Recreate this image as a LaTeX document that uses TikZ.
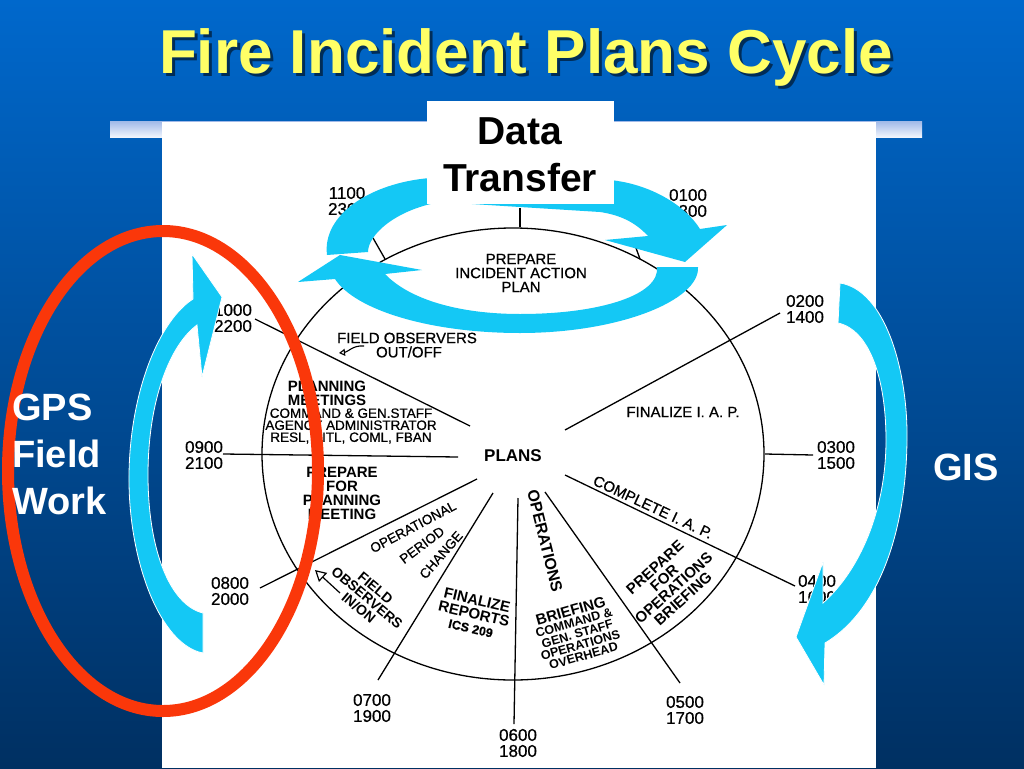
\documentclass[tikz,border=0pt]{standalone}
\usepackage{fontspec}
\setmainfont{Liberation Sans}
\newfontfamily\medfont[FakeBold=0.7]{Liberation Sans}
\usetikzlibrary{arrows.meta}
\definecolor{bgtop}{RGB}{0,104,204}
\definecolor{bgbot}{RGB}{0,48,98}
\definecolor{barA}{RGB}{160,185,232}
\definecolor{barB}{RGB}{240,244,252}
\definecolor{cy}{RGB}{20,200,245}
\definecolor{rd}{RGB}{250,55,10}
\definecolor{ttl}{RGB}{255,255,102}
\begin{document}
\begin{tikzpicture}[x=1pt,y=-1pt,
  tm/.style={font=\medfont\fontsize{17}{16}\selectfont, align=center, inner sep=0pt},
  tx/.style={font=\medfont\fontsize{15}{14}\selectfont, align=center, inner sep=0pt},
  bx/.style={font=\fontsize{15}{14}\selectfont\bfseries, align=center, inner sep=0pt},
  sm/.style={font=\medfont\fontsize{13.5}{12}\selectfont, align=center, inner sep=0pt},
  spoke/.style={line width=1.3pt, black},
  cyar/.style={fill=cy, draw=white, line width=0.8pt},
  big/.style={font=\fontsize{38}{47}\selectfont\bfseries, text=white, inner sep=0pt, align=left},
]
\useasboundingbox (0,0) rectangle (1024,768);
\shade[top color=bgtop, bottom color=bgbot] (0,0) rectangle (1024,768);
\shade[top color=barA, bottom color=barB] (110,121) rectangle (922,137);
\fill[white] (162,122) rectangle (876,768);

% title
\node[anchor=base, font=\fontsize{62}{62}\selectfont\bfseries, text=black, opacity=.55, inner sep=0pt] (titsh) at (529,77) {Fire Incident Plans Cycle};
\node[anchor=base, font=\fontsize{62}{62}\selectfont\bfseries, text=ttl, inner sep=0pt] (tit) at (526,74) {Fire Incident Plans Cycle};

% clock face
\coordinate (cc) at (513,454);
\draw[spoke] (cc) ellipse [x radius=251, y radius=226];

% spoke end points
\coordinate (s11a) at (373,238); \coordinate (s11b) at (385,259);
\coordinate (s12a) at (520,208); \coordinate (s12b) at (520,227);
\coordinate (s01a) at (636,248); \coordinate (s01b) at (640,259);
\coordinate (s02a) at (565,430); \coordinate (s02b) at (780,313);
\coordinate (s03a) at (765,454); \coordinate (s03b) at (813,455);
\coordinate (s04a) at (565,475); \coordinate (s04b) at (795,586);
\coordinate (s05a) at (545,492); \coordinate (s05b) at (680,683);
\coordinate (s06a) at (518,498); \coordinate (s06b) at (514,724);
\coordinate (s07a) at (493,493); \coordinate (s07b) at (378,680);
\coordinate (s08a) at (477,479); \coordinate (s08b) at (260,588);
\coordinate (s09a) at (458,457); \coordinate (s09b) at (223,454);
\coordinate (s10a) at (470,426); \coordinate (s10b) at (255,319);
\foreach \s in {11,12,01,02,03,04,05,06,07,08,09,10}{
  \draw[spoke] (s\s a) -- (s\s b);
}

% time labels
\node[tm] (t11) at (347,201) {1100\\2300};
\node[tm] (t01) at (688,203) {0100\\1300};
\node[tm] (t02) at (805,309) {0200\\1400};
\node[tm] (t03) at (836,455) {0300\\1500};
\node[tm] (t04) at (817,589) {0400\\1600};
\node[tm] (t05) at (685,710) {0500\\1700};
\node[tm] (t06) at (518,743) {0600\\1800};
\node[tm] (t07) at (372,708) {0700\\1900};
\node[tm] (t08) at (230,591) {0800\\2000};
\node[tm] (t09) at (204,455) {0900\\2100};
\node[tm] (t10) at (233,318) {1000\\2200};

% sector texts
\node[tx] (prep) at (521,273) {PREPARE\\INCIDENT ACTION\\PLAN};
\node[tx] (fobs) at (407,338) {FIELD OBSERVERS};
\node[tx] (outoff) at (409,352) {OUT/OFF};
\coordinate (oa1) at (364,346); \coordinate (oa2) at (339,353);
\draw[line width=1.1pt, -{Triangle[open,length=6pt,width=7pt]}] (oa1) .. controls (353,345) and (348,352) .. (oa2);
\node[bx] (pm) at (327,393) {PLANNING\\MEETINGS};
\node[sm] (cmd) at (351,426) {COMMAND \& GEN.STAFF\\AGENCY ADMINISTRATOR\\RESL, SITL, COML, FBAN};
\node[bx] (ppm) at (342,493) {PREPARE\\FOR\\PLANNING\\MEETING};
\node[font=\fontsize{17}{17}\selectfont\bfseries, inner sep=0pt] (plans) at (513,456) {PLANS};
\node[tx] (fiap) at (683,412) {FINALIZE I. A. P.};
\node[tx, rotate=-25] (ciap) at (653,507) {COMPLETE I. A. P.};
\node[bx, rotate=42] (pfob) at (669,583) {PREPARE\\FOR\\OPERATIONS\\BRIEFING};
\node[font=\fontsize{16}{16}\selectfont\bfseries, inner sep=0pt, rotate=-76] (opv) at (545,541) {OPERATIONS};
\node[font=\fontsize{12.5}{11.5}\selectfont\bfseries, align=center, inner sep=0pt, rotate=16] (brief) at (577,633) {{\fontsize{15}{14}\selectfont BRIEFING}\\COMMAND \&\\GEN. STAFF\\OPERATIONS\\OVERHEAD};
\node[font=\fontsize{15}{14}\selectfont\bfseries, align=center, inner sep=0pt, rotate=-13] (frep) at (474,614) {FINALIZE\\REPORTS\\{\fontsize{12.5}{12}\selectfont\medfont ICS 209}};
\node[sm, rotate=28] (opl) at (413,527) {OPERATIONAL};
\node[sm, rotate=37] (per) at (422,545) {PERIOD};
\node[sm, rotate=49] (chg) at (441,555) {CHANGE};
\node[font=\fontsize{14}{13}\selectfont\bfseries, align=center, inner sep=0pt, rotate=-40] (fin) at (367,598) {FIELD\\OBSERVERS\\IN/ON};
\coordinate (ia1) at (340,593); \coordinate (ia2) at (315,570);
\draw[line width=1.2pt, -{Triangle[open,length=11pt,width=12pt]}] (ia1) -- (ia2);

% cyan arrows
\path[cyar] (203,653) .. controls (160,645) and (128,560) .. (129,475)
  .. controls (130,390) and (160,320) .. (193,299) -- (192,254) -- (222,297)
  -- (202,377) -- (197,325) .. controls (170,345) and (148,400) .. (148,475)
  .. controls (148,550) and (170,605) .. (203,613) -- cycle;
\path[cyar] (840,283) .. controls (885,290) and (908,370) .. (907,440)
  .. controls (906,530) and (880,610) .. (825,643) -- (824,685) -- (796,637)
  -- (823,562) -- (823,603) .. controls (860,570) and (886,510) .. (886,440)
  .. controls (886,380) and (870,330) .. (838,323) -- cycle;
\path[fill=cy] (327,255) .. controls (322,215) and (370,183) .. (430,178)
  -- (610,180) .. controls (650,184) and (685,205) .. (700,229) -- (727,225)
  -- (685,262) -- (605,240) -- (648,236) .. controls (635,222) and (620,215) .. (600,212)
  -- (440,202) .. controls (395,210) and (368,235) .. (368,252) -- cycle;
\path[fill=cy] (698,267) .. controls (700,300) and (620,333) .. (520,333)
  .. controls (430,333) and (355,310) .. (335,279) -- (298,282) -- (340,255)
  -- (422,270) -- (385,274) .. controls (410,300) and (460,314) .. (520,314)
  .. controls (600,314) and (660,295) .. (657,267) -- cycle;

% data transfer box
\node[fill=white, minimum width=187pt, minimum height=103pt, inner sep=0pt] (dtbox) at (520.5,152.5) {};
\node[font=\fontsize{39}{47}\selectfont\bfseries, align=center, inner sep=0pt] (dt) at (520,155) {Data\\Transfer};

% red ellipse
\coordinate (rc) at (163,471);
\draw[rd, line width=12pt] (rc) ellipse [x radius=155, y radius=240];

% side labels
\node[big, anchor=west] (gps) at (12,454) {GPS\\Field\\Work};
\node[big, anchor=base west] (gis) at (933,480) {GIS};
\end{tikzpicture}
\end{document}
